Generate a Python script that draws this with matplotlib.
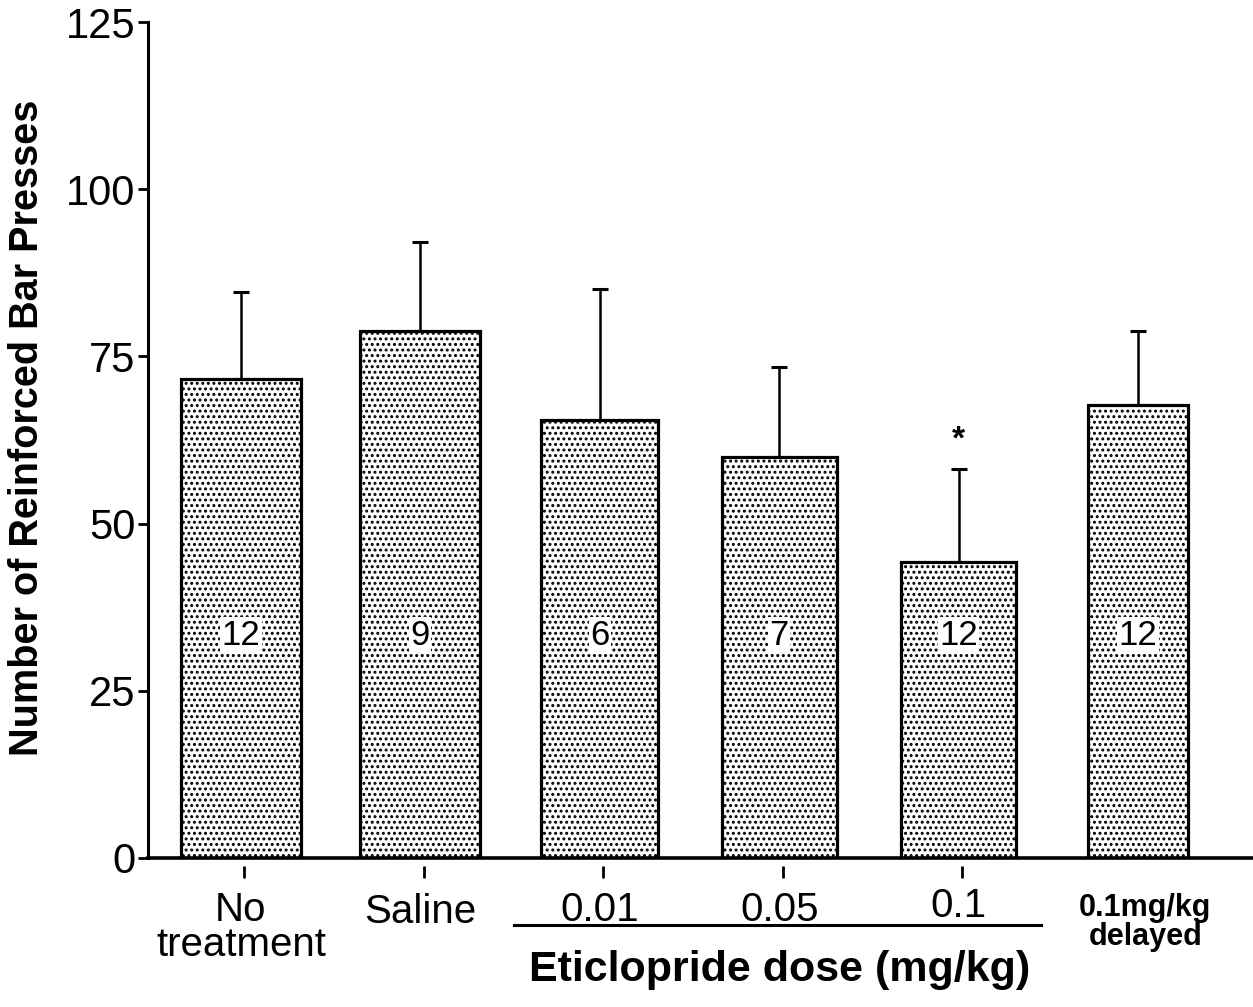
import matplotlib.pyplot as plt
import numpy as np

plt.rcParams['font.family'] = ['Liberation Sans', 'DejaVu Sans']
plt.rcParams['hatch.linewidth'] = 1.4

# values
groups = ['No\ntreatment', 'Saline', '0.01', '0.05', '0.1', '0.1mg/kg\ndelayed']
means = [71.7, 78.8, 65.5, 60.0, 44.2, 67.7]
upper_err = [12.9, 13.3, 19.6, 13.4, 13.9, 11.1]
n_rats = ['12', '9', '6', '7', '12', '12']
signif = ['', '', '', '', '*', '']

positions = np.arange(len(groups))
widths = [0.67, 0.67, 0.65, 0.64, 0.64, 0.56]

fig = plt.figure(figsize=(12.53, 10.07), dpi=100)
ax = fig.add_axes([0.118, 0.148, 0.882, 0.830])

ax.bar(positions, means, width=widths, color='white', edgecolor='black',
       linewidth=2.3, hatch='...', zorder=2)
ax.errorbar(positions, means, yerr=[np.zeros(len(means)), upper_err], fmt='none',
            ecolor='black', elinewidth=1.8, capsize=6, capthick=2.2, zorder=1)

# n per group inside the bars
for x, n in zip(positions, n_rats):
    ax.text(x, 33.3, n, ha='center', va='center', fontsize=25,
            bbox=dict(facecolor='white', edgecolor='none', pad=1), zorder=3)

# significance marks
for x, m, e, s in zip(positions, means, upper_err, signif):
    if s:
        ax.text(x, m + e + 4.4, s, ha='center', va='center', fontsize=24, fontweight='bold')

ax.set_xlim(-0.518, 5.64)
ax.set_ylim(0, 125)
ax.set_yticks([0, 25, 50, 75, 100, 125])
ax.tick_params(axis='y', direction='out', length=7, width=2, labelsize=30, pad=2)
ax.set_xticks([])

for side in ['top', 'right']:
    ax.spines[side].set_visible(False)
ax.spines['left'].set_linewidth(2.2)
ax.spines['bottom'].set_linewidth(2.6)

# small detached tick marks under the first five groups
ax.plot(positions[:5] + 0.02, [-2.1] * 5, ls='none', marker='|', ms=9, mew=2,
        color='black', clip_on=False)

# group labels
label_y = [-5.0, -5.2, -5.0, -5.0, -4.3, -5.3]
for x, lab, y in zip(positions, groups, label_y):
    if 'delayed' in lab:
        ax.text(x + 0.04, y, lab, ha='center', va='top', fontsize=22,
                fontweight='bold', linespacing=0.95, clip_on=False)
    else:
        ax.text(x, y, lab, ha='center', va='top', fontsize=29,
                linespacing=0.9, clip_on=False)

# bracket under the eticlopride doses
ax.plot([positions[2] - 0.48, positions[4] + 0.46], [-10.0, -10.0], color='black',
        lw=2.2, clip_on=False)
ax.text(positions[3], -16.8, 'Eticlopride dose (mg/kg)', ha='center', va='center',
        fontsize=31, fontweight='bold', clip_on=False)

fig.text(27 / 1253, 1 - 428 / 1007, 'Number of Reinforced Bar Presses', rotation=90,
         ha='center', va='center', fontsize=28.5, fontweight='bold')

fig.savefig('out.png', dpi=100)
